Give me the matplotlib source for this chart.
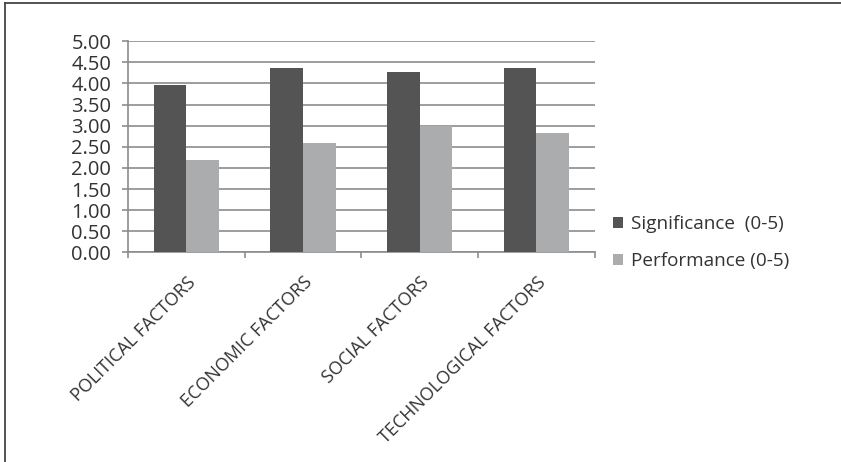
import numpy as np
import matplotlib
matplotlib.use('agg')
import matplotlib.pyplot as plt
from matplotlib.lines import Line2D

categories = ['POLITICAL FACTORS', 'ECONOMIC FACTORS', 'SOCIAL FACTORS', 'TECHNOLOGICAL FACTORS']
significance = [3.97, 4.36, 4.27, 4.36]
performance = [2.18, 2.58, 3.00, 2.83]
series_names = ['Significance  (0-5)', 'Performance (0-5)']
yticks = [0, 0.5, 1, 1.5, 2, 2.5, 3, 3.5, 4, 4.5, 5]

plt.rcParams['font.family'] = ['Open Sans', 'DejaVu Sans']
txt_col = '#333333'
grid_col = '#8c8c8c'

fig = plt.figure(figsize=(8.41, 4.62), dpi=100)
ax = fig.add_axes([0.152, 0.4535, 0.555, 0.4575])

x = np.arange(len(categories))
w = 0.28
ax.bar(x - w / 2, significance, w, color='#545454', label=series_names[0], zorder=3)
ax.bar(x + w / 2, performance, w, color='#abacae', label=series_names[1], zorder=3)

ax.set_xlim(-0.5, len(categories) - 0.5)
ax.set_ylim(0, 5)
ax.set_yticks(yticks)
ax.set_yticklabels([f'{v:.2f}' for v in yticks], fontsize=14.5, color=txt_col)
ax.yaxis.grid(True, color=grid_col, linewidth=1.2, zorder=0)
ax.set_axisbelow(True)

# category boundaries as ticks
ax.set_xticks(np.arange(len(categories) + 1) - 0.5, minor=False)
ax.set_xticklabels([])
ax.set_xticks(x, minor=True)
ax.set_xticklabels(categories, minor=True, rotation=45, ha='right',
                   rotation_mode='anchor', fontsize=13, color=txt_col)
ax.tick_params(axis='x', which='minor', length=0, pad=15)
ax.tick_params(axis='x', which='major', length=4, color=grid_col, width=1.2)
ax.tick_params(axis='y', length=4, color=grid_col, width=1.2, pad=8)

for s in ['top', 'right']:
    ax.spines[s].set_visible(False)
for s in ['left', 'bottom']:
    ax.spines[s].set_color(grid_col)
    ax.spines[s].set_linewidth(1.2)

leg = ax.legend(loc='center left', bbox_to_anchor=(1.039, 0.047), frameon=False,
                fontsize=13.6, handlelength=0.53, handleheight=0.53,
                handletextpad=0.45, labelspacing=1.0, borderaxespad=0, borderpad=0)
for t in leg.get_texts():
    t.set_color(txt_col)

# outer frame (top and left only)
fig.add_artist(Line2D([0.006, 1], [0.994, 0.994], transform=fig.transFigure,
                      color='#444444', linewidth=1.3))
fig.add_artist(Line2D([0.006, 0.006], [0, 0.994], transform=fig.transFigure,
                      color='#444444', linewidth=1.3))

fig.savefig('out.png', dpi=100)
